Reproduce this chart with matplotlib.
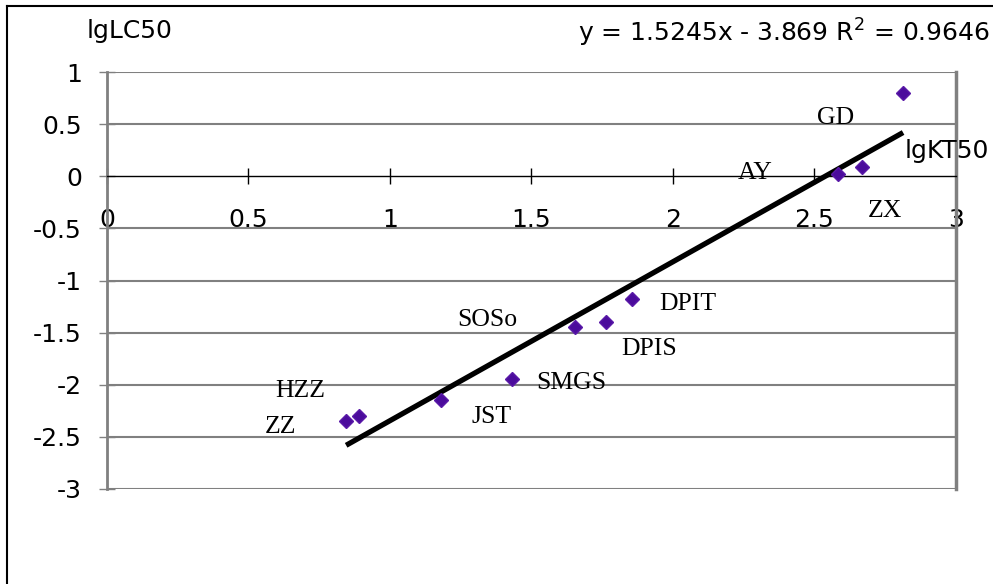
import matplotlib
matplotlib.use('Agg')
import matplotlib.pyplot as plt
from matplotlib.lines import Line2D
import numpy as np

# data
names = ['GD', 'ZX', 'AY', 'DPIT', 'DPIS', 'SOSo', 'SMGS', 'JST', 'HZZ', 'ZZ']
lgKT50 = [2.813, 2.668, 2.583, 1.855, 1.763, 1.654, 1.431, 1.180, 0.890, 0.845]
lgLC50 = [0.798, 0.087, 0.019, -1.173, -1.394, -1.442, -1.942, -2.144, -2.298, -2.346]
slope = 1.5245
intercept = -3.869
r2 = 0.9646
xticks = [0, 0.5, 1, 1.5, 2, 2.5, 3]
yticks = [1, 0.5, 0, -0.5, -1, -1.5, -2, -2.5, -3]

# label offsets in pixels (right, up) from each point
offsets = {
    'GD': (-68, -25), 'ZX': (23, -44), 'AY': (-83, 1), 'DPIT': (56, -5),
    'DPIS': (43, -27), 'SOSo': (-88, 7), 'SMGS': (59, -4), 'JST': (51, -17),
    'HZZ': (-59, 25), 'ZZ': (-66, -6),
}

W, H = 993, 584
fig = plt.figure(figsize=(W / 100, H / 100), dpi=100)
ax = fig.add_axes([107 / W, 1 - 489 / H, (956 - 107) / W, (489 - 72) / H])

ax.set_xlim(0, 3)
ax.set_ylim(-3, 1)

grey = '#808080'
for y in yticks:
    if y != 0:
        ax.axhline(y, color=grey, lw=1.5, zorder=1)

ax.spines['top'].set_visible(False)
ax.spines['left'].set_color(grey)
ax.spines['left'].set_linewidth(2)
ax.spines['right'].set_color(grey)
ax.spines['right'].set_linewidth(2.5)
ax.spines['bottom'].set_position(('data', 0))
ax.spines['bottom'].set_color('black')
ax.spines['bottom'].set_linewidth(1)

ax.set_xticks(xticks)
ax.set_xticklabels([f'{v:g}' for v in xticks])
ax.set_yticks(yticks)
ax.set_yticklabels([f'{v:g}' for v in yticks])
ax.tick_params(axis='x', direction='inout', length=12, width=1, pad=17,
               labelsize=18, colors='black')
ax.tick_params(axis='y', direction='inout', length=12, width=1, pad=12,
               labelsize=18, color=grey, labelcolor='black')

# trend line over the data range
xs = np.array([min(lgKT50), max(lgKT50)])
ax.plot(xs, slope * xs + intercept, color='black', lw=3.8, zorder=3,
        solid_capstyle='butt')

ax.plot(lgKT50, lgLC50, linestyle='none', marker='D', ms=7,
        color='#4b0c9c', mec='#5a1aa8', zorder=4, clip_on=False)

for n, x, y in zip(names, lgKT50, lgLC50):
    ax.annotate(n, (x, y), xytext=offsets[n], textcoords='offset pixels',
                ha='center', va='center', fontsize=18.5,
                family='Liberation Serif', zorder=5)

fig.text(130 / W, 1 - 31 / H, 'lgLC50', ha='center', va='center', fontsize=18)
fig.text(947 / W, 1 - 151 / H, 'lgKT50', ha='center', va='center', fontsize=18)
fig.text(990 / W, 1 - 33 / H,
         f'y = {slope}x - {-intercept} R$^2$ = {r2}',
         ha='right', va='center', fontsize=18)

# outer chart frame (runs past the right and bottom edges)
fig.add_artist(Line2D([7 / W, 7 / W], [0, 1 - 6 / H], color='black', lw=1.5))
fig.add_artist(Line2D([7 / W, 1], [1 - 6 / H, 1 - 6 / H], color='black', lw=1.5))

fig.savefig('out.png', dpi=100)
